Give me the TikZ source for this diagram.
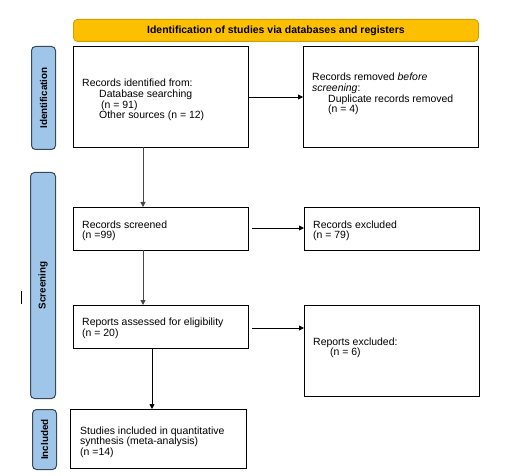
\documentclass[tikz,border=0pt]{standalone}
\usepackage{fontspec}
\setmainfont{Liberation Sans}
\usetikzlibrary{arrows.meta}
\definecolor{bannerfill}{RGB}{252,192,0}
\definecolor{bannerdraw}{RGB}{205,160,0}
\definecolor{sidefill}{RGB}{159,197,232}
\definecolor{sidedraw}{RGB}{60,70,90}
\definecolor{arrgray}{RGB}{70,70,70}
\begin{document}
\begin{tikzpicture}[x=1bp,y=-1bp,
  box/.style={draw=black, line width=0.9bp, fill=white, anchor=north west, inner sep=0pt},
  txt/.style={anchor=north west, inner sep=0pt, align=left, font=\fontsize{10.5}{10.7}\selectfont},
  side/.style={draw=sidedraw, line width=1bp, fill=sidefill, rounded corners=4bp, anchor=north west, inner sep=0pt},
  sidetxt/.style={rotate=90, inner sep=0pt, font=\fontsize{9.9}{11}\selectfont\bfseries},
  arr/.style={-{Triangle[length=5bp,width=5bp]}, line width=0.8bp},
  garr/.style={arr, draw=arrgray, fill=arrgray, line width=1bp}
]
\useasboundingbox (0,0) rectangle (519,476);
% banner
\node[draw=bannerdraw, fill=bannerfill, line width=0.8bp, rounded corners=4bp, anchor=north west, inner sep=0pt,
      minimum width=405bp, minimum height=22bp, font=\fontsize{10.5}{11}\selectfont\bfseries] (banner) at (73,19)
      {Identification of studies via databases and registers};
% side bars
\node[side, minimum width=24bp, minimum height=103bp] (sid) at (31,46) {};
\node[sidetxt] (sidt) at (sid.center) {Identification};
\node[side, minimum width=25bp, minimum height=226bp] (sscr) at (30,172) {};
\node[sidetxt] (sscrt) at (sscr.center) {Screening};
\node[side, minimum width=24bp, minimum height=60bp] (sinc) at (32,409) {};
\node[sidetxt] (sinct) at (sinc.center) {Included};
% boxes
\node[box, minimum width=175bp, minimum height=101bp] (b1) at (73,46) {};
\node[box, minimum width=175bp, minimum height=101bp] (b2) at (303,46) {};
\node[box, minimum width=175bp, minimum height=43bp] (b3) at (73,207) {};
\node[box, minimum width=175bp, minimum height=43bp] (b4) at (304,207) {};
\node[box, minimum width=175bp, minimum height=43bp] (b5) at (73,305) {};
\node[box, minimum width=175bp, minimum height=91bp] (b6) at (304,305) {};
\node[box, minimum width=176bp, minimum height=59bp] (b7) at (70,409) {};
% texts
\node[txt] (t1) at (82,79) {Records identified from:\\\hspace*{17bp}Database searching\\\hspace*{19bp}(n = 91)\\\hspace*{17bp}Other sources (n = 12)};
\node[txt] (t2) at (312,73) {Records removed \textit{before}\\\textit{screening}:\\\hspace*{16bp}Duplicate records removed\\\hspace*{16bp}(n = 4)};
\node[txt] (t3) at (82,220.5) {Records screened\\(n =99)};
\node[txt] (t4) at (313,220.5) {Records excluded\\(n = 79)};
\node[txt] (t5) at (82,318) {Reports assessed for eligibility\\(n = 20)};
\node[txt] (t6) at (313,337.5) {Reports excluded:\\\hspace*{17bp}(n = 6)};
\node[txt] (t7) at (80,426.5) {Studies included in quantitative\\synthesis (meta-analysis)\\(n =14)};
% connectors
\coordinate (a1s) at (143,147);
\coordinate (a1e) at (143,207);
\draw[garr] (a1s) -- (a1e);
\coordinate (a2s) at (249,97);
\coordinate (a2e) at (303,97);
\draw[arr] (a2s) -- (a2e);
\coordinate (a3s) at (252,228);
\coordinate (a3e) at (304,228);
\draw[arr] (a3s) -- (a3e);
\coordinate (a4s) at (143,250);
\coordinate (a4e) at (143,305);
\draw[garr] (a4s) -- (a4e);
\coordinate (a5s) at (252,328);
\coordinate (a5e) at (304,328);
\draw[arr] (a5s) -- (a5e);
\coordinate (a6s) at (152,348);
\coordinate (a6e) at (152,409);
\draw[arr] (a6s) -- (a6e);
% stray mark
\coordinate (m1) at (21.5,291);
\coordinate (m2) at (21.5,304);
\draw[line width=0.8bp] (m1) -- (m2);
\end{tikzpicture}
\end{document}
